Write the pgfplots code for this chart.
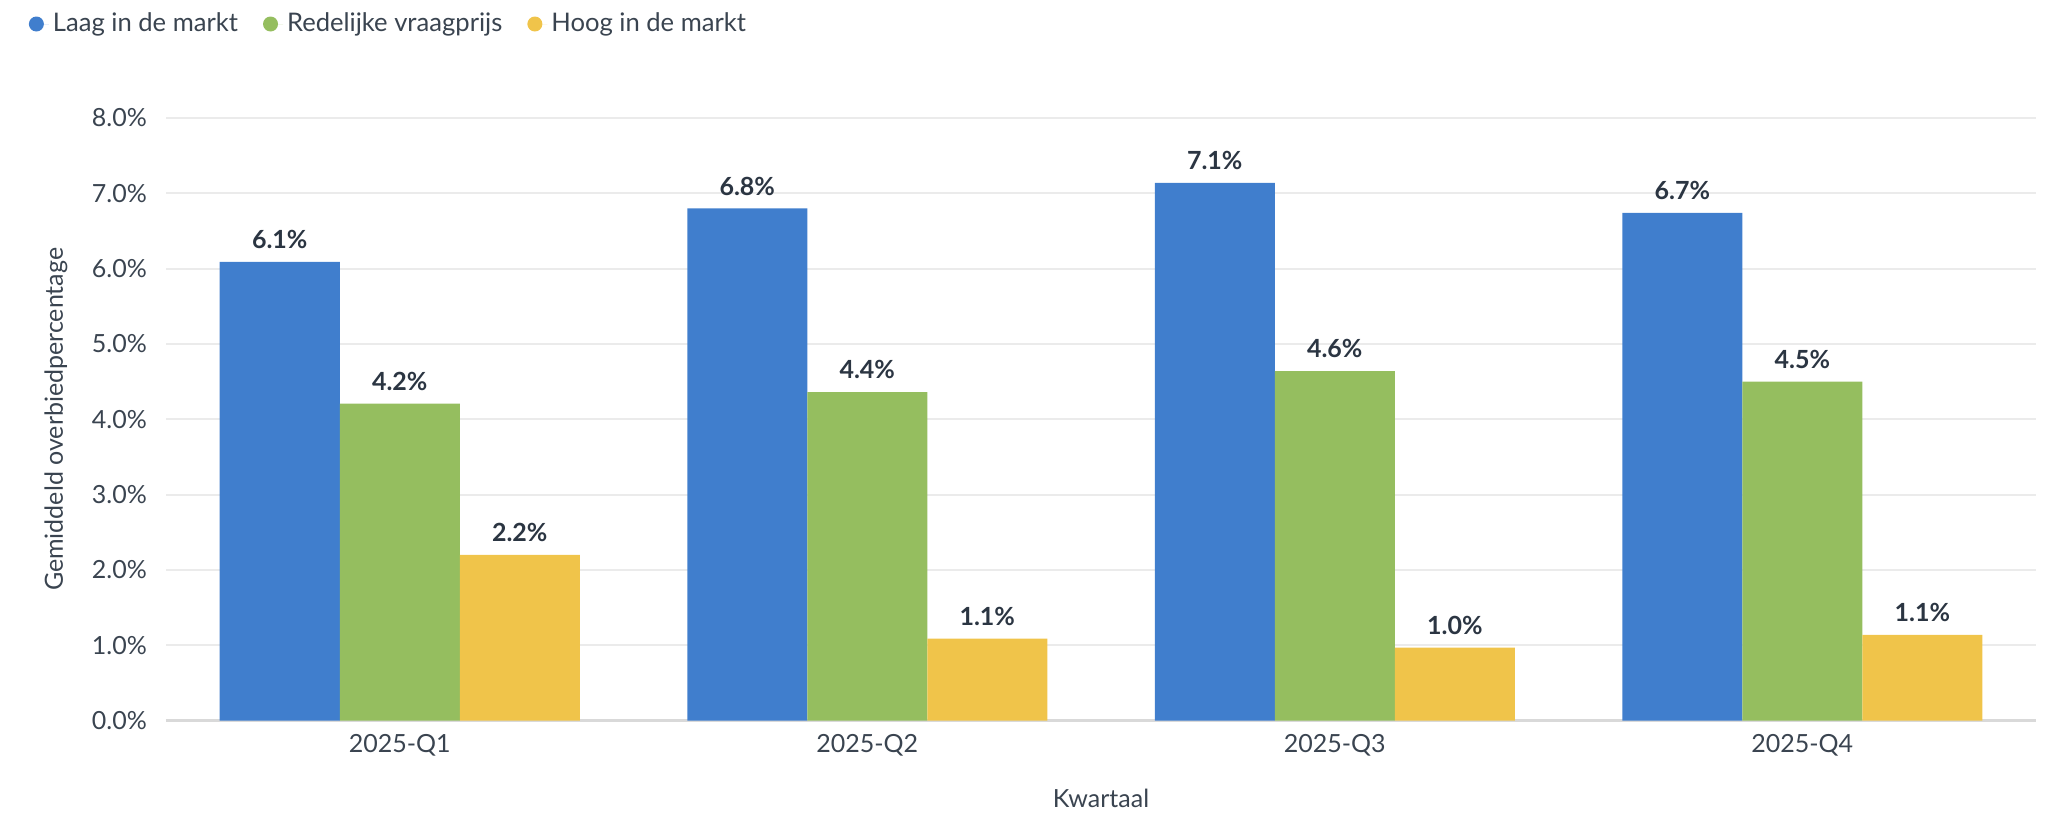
\documentclass[border=0pt]{standalone}
\usepackage{fontspec}
\setmainfont{Lato}
\usepackage{pgfplots}
\pgfplotsset{compat=1.18}
\definecolor{cBlue}{HTML}{407ECD}
\definecolor{cGreen}{HTML}{95BE5F}
\definecolor{cYellow}{HTML}{F0C44A}
\definecolor{gridc}{HTML}{EBEBEB}
\definecolor{axisc}{HTML}{D9D9D9}
\definecolor{txtc}{HTML}{3A4450}
\definecolor{lblc}{HTML}{2B3542}
\newcommand{\fs}{\fontsize{12.5}{15}\selectfont}
\newcommand{\fl}{\fontsize{12.8}{15.4}\selectfont}
\begin{document}
\begin{tikzpicture}[font=\fs]
\path[use as bounding box] (-83pt,-51.65pt) rectangle (950pt,360.35pt);
\begin{axis}[
  at={(0pt,0pt)}, anchor=south west,
  scale only axis, width=935pt, height=301.35pt,
  /pgf/number format/assume math mode=true,
  ybar=0pt, bar width=60pt,
  xmin=-0.5, xmax=3.5, ymin=0, ymax=8,
  xtick={0,1,2,3},
  xticklabels={2025-Q1,2025-Q2,2025-Q3,2025-Q4},
  ytick={0,1,...,8},
  yticklabel={\pgfmathprintnumber[fixed,fixed zerofill,precision=1]{\tick}\%},
  ymajorgrids, grid style={color=gridc, line width=1pt},
  axis x line*=bottom, axis y line*=left,
  x axis line style={color=axisc, line width=1.2pt, -},
  y axis line style={draw=none},
  major tick length=0pt,
  ticklabel style={font=\fs, text=txtc},
  yticklabel style={xshift=-6pt},
  xticklabel style={yshift=-3.5pt},
  xlabel={Kwartaal},
  ylabel={Gemiddeld overbiedpercentage},
  label style={font=\fs, text=txtc},
  xlabel style={at={(axis description cs:0.5,-0.1294)}, anchor=center},
  ylabel style={at={(axis description cs:-0.0588,0.5)}, anchor=center},
  nodes near coords={\pgfmathprintnumber[fixed,fixed zerofill,precision=1]{\pgfplotspointmeta}\%},
  nodes near coords style={font=\fs\bfseries, text=lblc, yshift=3pt},
  legend columns=3,
  legend cell align=left,
  legend style={draw=none, fill=none, inner sep=0pt, font=\fl, text=txtc,
    at={(axis description cs:0,1)}, anchor=west, xshift=-68.75pt, yshift=47pt,
    /tikz/every even column/.append style={column sep=10.5pt}},
  legend image code/.code={\path (0pt,0pt) -- (10pt,0pt); \fill[#1] (3.75pt,0pt) circle (3.75pt);},
]
\addplot[fill=cBlue, draw=none] coordinates {(0,6.09) (1,6.80) (2,7.14) (3,6.74)};
\addplot[fill=cGreen, draw=none] coordinates {(0,4.21) (1,4.36) (2,4.64) (3,4.50)};
\addplot[fill=cYellow, draw=none] coordinates {(0,2.20) (1,1.09) (2,0.97) (3,1.14)};
\legend{Laag in de markt, Redelijke vraagprijs, Hoog in de markt}
\end{axis}
\end{tikzpicture}
\end{document}
